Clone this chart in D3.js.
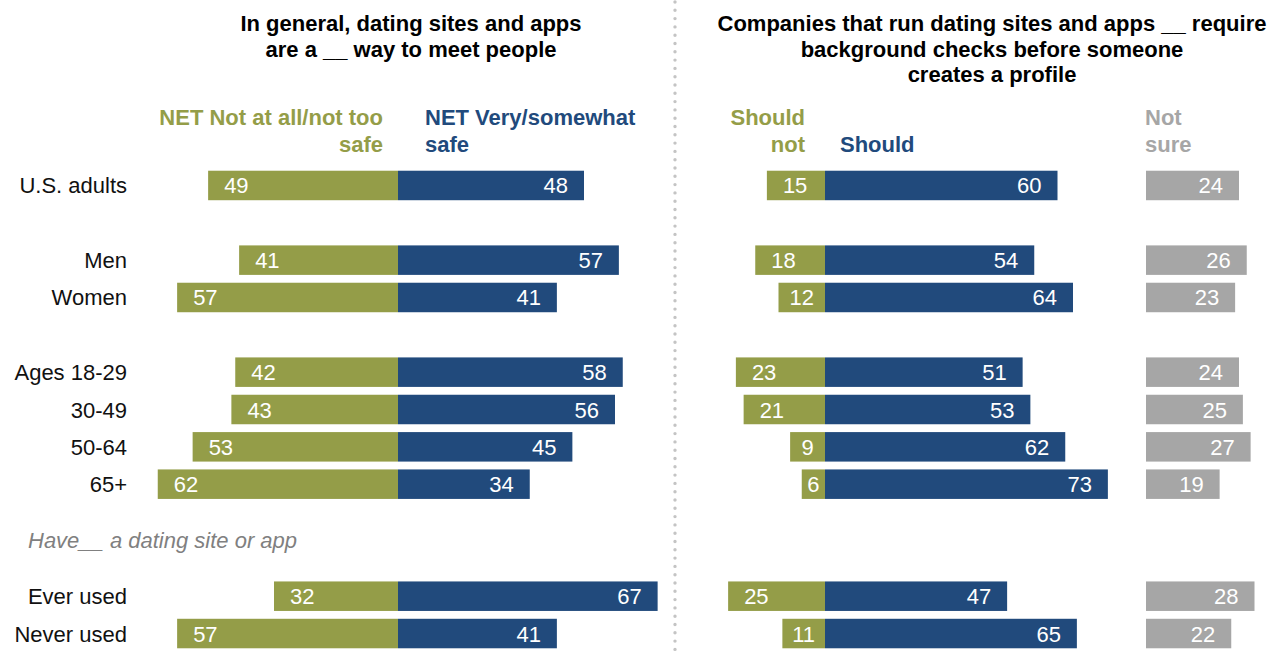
<!DOCTYPE html>
<html>
<head>
<meta charset="utf-8">
<script src="https://cdn.jsdelivr.net/npm/d3@7"></script>
<style>
  html, body { margin: 0; padding: 0; background: #fff; }
  svg { display: block; font-family: "Liberation Sans", Arial, sans-serif; }
</style>
</head>
<body>
<svg id="chart" width="1276" height="652"></svg>
<script>
// Survey groups and shares (%)
const groups     = ["U.S. adults", "Men", "Women", "Ages 18-29", "30-49", "50-64", "65+", "Ever used", "Never used"];
const notSafe    = [49, 41, 57, 42, 43, 53, 62, 32, 57];
const safe       = [48, 57, 41, 58, 56, 45, 34, 67, 41];
const shouldNot  = [15, 18, 12, 23, 21, 9, 6, 25, 11];
const should     = [60, 54, 64, 51, 53, 62, 73, 47, 65];
const notSure    = [24, 26, 23, 24, 25, 27, 19, 28, 22];

const leftTitle  = ["In general, dating sites and apps", "are a __ way to meet people"];
const rightTitle = ["Companies that run dating sites and apps __ require", "background checks before someone", "creates a profile"];
const legendNotSafe = ["NET Not at all/not too", "safe"];
const legendSafe    = ["NET Very/somewhat", "safe"];
const legendShouldNot = ["Should", "not"];
const legendShould    = ["Should"];
const legendNotSure   = ["Not", "sure"];
const sectionNote = "Have__ a dating site or app";

const GREEN = "#949d48", BLUE = "#214a7c", GRAY = "#a6a6a6";

const svg = d3.select("#chart");

// Row slots: blank slots separate the groups of rows
const slots = ["U.S. adults", "_g1", "Men", "Women", "_g2", "Ages 18-29", "30-49", "50-64", "65+", "_g3", "_g4", "Ever used", "Never used"];
const y = d3.scaleBand().domain(slots).range([166.8, 652.2]).paddingInner(0.21).paddingOuter(0.105);
const yc = d => y(d) + y.bandwidth() / 2;

// Diverging scales for the two panels, plus the "not sure" column
const unit = 3.875;
const xL = d3.scaleLinear().domain([-100, 100]).range([398 - 100 * unit, 398 + 100 * unit]);
const xR = d3.scaleLinear().domain([-100, 100]).range([825 - 100 * unit, 825 + 100 * unit]);
const xN = d3.scaleLinear().domain([0, 100]).range([1146, 1146 + 100 * unit]);

const rows = groups.map((g, i) => ({
  g, notSafe: notSafe[i], safe: safe[i], shouldNot: shouldNot[i], should: should[i], notSure: notSure[i]
}));

// Dotted divider between panels
svg.append("line")
  .attr("x1", 675).attr("x2", 675).attr("y1", 2).attr("y2", 652)
  .attr("stroke", "#c4c4c4").attr("stroke-width", 3.4)
  .attr("stroke-linecap", "round").attr("stroke-dasharray", "0 8.3");

// Titles
function multiline(lines, x, y0, dy, anchor, color, weight, size) {
  const t = svg.append("text")
    .attr("text-anchor", anchor).attr("fill", color)
    .attr("font-weight", weight).attr("font-size", size);
  lines.forEach((s, i) => t.append("tspan").attr("x", x).attr("y", y0 + i * dy).text(s));
  return t;
}
multiline(leftTitle, 411, 31, 25.5, "middle", "#000", "bold", 22);
multiline(rightTitle, 992, 31, 25.5, "middle", "#000", "bold", 22);

// Column headers
multiline(legendNotSafe, 383, 125, 27, "end", GREEN, "bold", 22);
multiline(legendSafe, 425, 125, 27, "start", BLUE, "bold", 22);
multiline(legendShouldNot, 805, 125, 27, "end", GREEN, "bold", 22);
multiline(legendShould, 840, 152, 27, "start", BLUE, "bold", 22);
multiline(legendNotSure, 1145, 125, 27, "start", GRAY, "bold", 22);

// Row labels
svg.append("g").selectAll("text").data(rows).join("text")
  .attr("x", 127).attr("y", d => yc(d.g) + 8)
  .attr("text-anchor", "end").attr("font-size", 22).attr("fill", "#111")
  .text(d => d.g);

svg.append("text")
  .attr("x", 28).attr("y", (yc("_g3") + yc("_g4")) / 2 + 8)
  .attr("font-size", 22).attr("font-style", "italic").attr("fill", "#808080")
  .text(sectionNote);

// Bars
function bars(key, x, color, dir) {
  const g = svg.append("g");
  g.selectAll("rect").data(rows).join("rect")
    .attr("x", d => dir < 0 ? x(-d[key]) : x(0))
    .attr("width", d => dir < 0 ? x(0) - x(-d[key]) : x(d[key]) - x(0))
    .attr("y", d => y(d.g)).attr("height", y.bandwidth())
    .attr("fill", color);
  return g;
}
function barsFrom(key, x, color) {
  svg.append("g").selectAll("rect").data(rows).join("rect")
    .attr("x", x(0)).attr("width", d => x(d[key]) - x(0))
    .attr("y", d => y(d.g)).attr("height", y.bandwidth())
    .attr("fill", color);
}
bars("notSafe", xL, GREEN, -1);
bars("safe", xL, BLUE, 1);
bars("shouldNot", xR, GREEN, -1);
bars("should", xR, BLUE, 1);
barsFrom("notSure", xN, GRAY);

// Value labels
const pad = 16;
function startLabels(key, x) {
  svg.append("g").selectAll("text").data(rows).join("text")
    .attr("y", d => yc(d.g) + 8).attr("font-size", 22).attr("fill", "#fff")
    .attr("text-anchor", "start")
    .text(d => d[key])
    .each(function (d) {
      const x0 = x(-d[key]), w = x(0) - x0;
      const tw = this.getComputedTextLength();
      d3.select(this).attr("x", x0 + Math.min(pad, (w - tw) / 2));
    });
}
function endLabels(key, x0fn, x1fn) {
  svg.append("g").selectAll("text").data(rows).join("text")
    .attr("y", d => yc(d.g) + 8).attr("font-size", 22).attr("fill", "#fff")
    .attr("text-anchor", "end")
    .text(d => d[key])
    .each(function (d) {
      const a = x0fn(d), b = x1fn(d), w = b - a;
      const tw = this.getComputedTextLength();
      d3.select(this).attr("x", b - Math.min(pad, (w - tw) / 2));
    });
}
startLabels("notSafe", xL);
endLabels("safe", () => xL(0), d => xL(d.safe));
startLabels("shouldNot", xR);
endLabels("should", () => xR(0), d => xR(d.should));
endLabels("notSure", () => xN(0), d => xN(d.notSure));
</script>
</body>
</html>
